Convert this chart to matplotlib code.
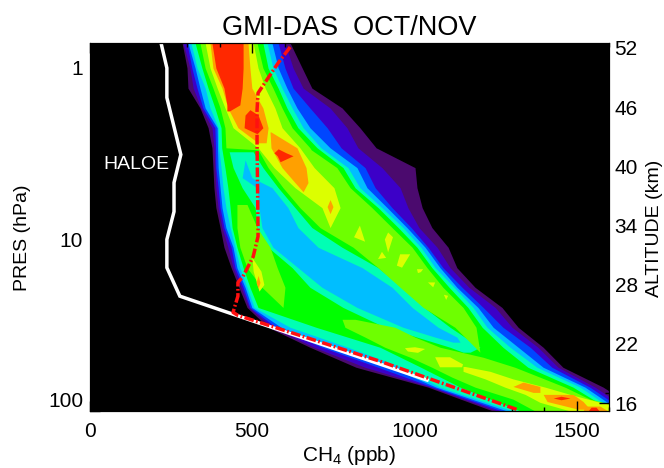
import matplotlib
matplotlib.use('Agg')
import matplotlib.pyplot as plt
from matplotlib.ticker import FixedLocator, MultipleLocator, NullFormatter

plt.rcParams['font.family'] = ['Liberation Sans', 'DejaVu Sans']
plt.rcParams['mathtext.default'] = 'regular'

# pressure levels (hPa) the contour edges were read at
pres = [0.715, 1, 1.31, 1.71, 2.23, 2.92, 3.81, 4.99, 6.52, 8.52, 11.1, 14.6, 19.0, 24.9, 32.5, 42.5, 55.6, 72.6, 100]

# outer contour bands, left and right edge in ppb
purple_l = [284, 299, 302, 339, 364, 376, 379, 382, 388, 401, 413, 435, 459, 484, 549, 678, 820, 1042, 1242]
purple_r = [617, 654, 684, 777, 832, 882, 1002, 1008, 1024, 1054, 1104, 1131, 1187, 1270, 1320, 1397, 1458, 1582, 1696]
indigo_l = [287, 308, 318, 342, 376, 382, 385, 388, 395, 407, 425, 441, 466, 490, 561, 691, 848, 1051, 1255]
indigo_r = [601, 626, 657, 740, 792, 826, 900, 956, 980, 1014, 1070, 1110, 1168, 1249, 1301, 1381, 1443, 1557, 1665]
blue_l = [299, 314, 330, 348, 385, 387, 388, 395, 401, 413, 435, 447, 472, 493, 573, 715, 888, 1057, 1270]
blue_r = [580, 601, 626, 678, 731, 774, 848, 879, 931, 990, 1042, 1088, 1147, 1212, 1273, 1357, 1424, 1541, 1649]
azure_l = [302, 324, 339, 355, 392, 393, 395, 401, 407, 419, 441, 453, 478, 499, 589, 734, 925, 1067, 1286]
azure_r = [561, 580, 607, 638, 678, 740, 823, 854, 916, 977, 1033, 1079, 1131, 1196, 1243, 1320, 1397, 1526, 1634]
teal_l = [311, 330, 355, 370, 395, 397, 404, 410, 419, 432, 447, 462, 484, 506, 617, 795, 962, 1079, 1304]
teal_r = [546, 564, 592, 623, 657, 712, 795, 832, 900, 965, 1020, 1064, 1122, 1181, 1224, 1295, 1378, 1511, 1619]
green_l = [324, 345, 364, 385, 404, 406, 416, 425, 432, 438, 453, 472, 493, 518, 697, 894, 1020, 1141, 1326]
green_r = [533, 549, 580, 607, 641, 700, 780, 817, 888, 950, 1008, 1054, 1107, 1165, 1209, 1273, 1350, 1489, 1609]

# low-value core inside the distribution
core_teal_p = [3.08, 3.81, 4.99, 6.52, 8.52, 11.1, 14.6, 19.0, 24.9, 32.5, 42.5, 45.4]
core_teal_l = [429, 441, 469, 509, 515, 549, 623, 678, 780, 909, 1110, 1150]
core_teal_r = [503, 533, 580, 632, 684, 777, 888, 962, 1030, 1110, 1202, 1172]
core_azure_p = [3.43, 4.36, 4.99, 6.52, 8.52, 11.1, 14.6, 19.0, 24.9, 32.5, 37.1, 39.7]
core_azure_l = [478, 469, 515, 521, 530, 564, 641, 715, 823, 965, 1064, 1119]
core_azure_r = [478, 499, 561, 610, 641, 703, 839, 931, 993, 1073, 1131, 1141]

lime_p = [0.715, 1, 1.31, 1.71, 2.23, 2.92, 3.0, 3.81, 4.99, 6.52, 8.52, 11.1, 14.6, 19.0, 24.9, 32.5, 45.4]
lime_l = [339, 355, 379, 401, 416, 419, 518, 549, 595, 647, 709, 811, 888, 956, 1027, 1125, 1202]
lime_r = [515, 533, 564, 592, 623, 678, 682, 761, 802, 869, 931, 993, 1039, 1088, 1150, 1190, 1202]
lime2_p = [6.25, 8.52, 11.1, 14.6, 19.0, 24.9]
lime2_l = [453, 453, 462, 484, 530, 595]
lime2_r = [484, 515, 555, 577, 601, 595]
lime3_p = [29.2, 32.5, 37.1, 42.5, 48.6, 55.6, 63.5, 72.6, 85.3, 100]
lime3_l = [777, 786, 848, 909, 987, 1054, 1116, 1187, 1304, 1372]
lime3_r = [817, 940, 1002, 1079, 1212, 1310, 1387, 1464, 1541, 1696]

yellow_p = [0.715, 1, 1.31, 1.71, 2.23, 2.92, 3.81, 4.99, 6.52, 8.52]
yellow_l = [355, 370, 392, 416, 441, 518, 567, 632, 715, 740]
yellow_r = [503, 518, 540, 570, 592, 647, 691, 752, 771, 740]
yellow2_p = [12.7, 15.3, 18.3, 20.0]
yellow2_l = [499, 503, 515, 521]
yellow2_r = [499, 527, 536, 521]
yellow3_p = [55, 58.7, 65, 72.6, 80, 89, 100]
yellow3_l = [1150, 1150, 1218, 1279, 1341, 1387, 1480]
yellow3_r = [1156, 1233, 1304, 1403, 1480, 1572, 1696]

orange_p = [0.715, 1, 1.31, 1.71, 2.23, 2.73]
orange_l = [370, 379, 407, 425, 456, 518]
orange_r = [487, 493, 499, 533, 549, 543]
orange2_p = [2.36, 2.92, 3.81, 4.66, 5.27]
orange2_l = [555, 558, 592, 632, 657]
orange2_r = [558, 638, 666, 672, 657]
orange3_p = [5.85, 6.43, 7.07]
orange3_l = [740, 731, 740]
orange3_r = [740, 749, 740]
orange4_p = [16.2, 17.8, 19.2]
orange4_l = [518, 512, 518]
orange4_r = [518, 524, 518]
orange5_p = [67.8, 71.9, 77.9]
orange5_l = [1335, 1304, 1366]
orange5_r = [1335, 1387, 1387]
orange6_p = [80, 88, 97.6]
orange6_l = [1397, 1409, 1505]
orange6_r = [1489, 1520, 1541]
orange7_p = [93.6, 100]
orange7_l = [1526, 1520]
orange7_r = [1572, 1597]

red_p = [0.715, 1, 1.31, 1.64, 1.78]
red_l = [376, 388, 413, 422, 422]
red_r = [472, 472, 469, 462, 430]
red2_p = [1.75, 1.88, 2.23, 2.42]
red2_l = [493, 478, 475, 515]
red2_r = [493, 518, 533, 515]
red3_p = [2.96, 3.12, 3.25, 3.52]
red3_l = [580, 567, 577, 586]
red3_r = [580, 604, 626, 586]
red4_p = [82, 84, 86]
red4_l = [1452, 1428, 1452]
red4_r = [1452, 1480, 1452]
red5_p = [95, 100]
red5_l = [1545, 1535]
red5_r = [1560, 1570]

# small yellow islands (ppb, hPa)
isl_x = [[832, 814, 848], [919, 909, 919, 934], [900, 888, 913], [956, 987, 962, 946],
         [1008, 1027, 1020, 1011], [1042, 1064, 1058], [1091, 1104, 1098],
         [971, 1002, 1033, 1011, 980], [1064, 1110, 1150, 1147, 1079]]
isl_p = [[8.3, 9.7, 10.3], [9.1, 10.0, 11.9, 9.7], [11.8, 13, 12.8], [12.2, 12.2, 14.6, 14.2],
         [14.9, 14.9, 15.5, 15.7], [17.8, 17.8, 19.0], [21, 21.3, 22.5],
         [43, 42.5, 43.5, 45.8, 45], [48.6, 48.6, 53.5, 55.6, 55.6]]

# profiles
haloe_ch4 = [219, 237, 237, 280, 259, 259, 237, 237, 277, 1039]
haloe_p = [0.715, 1, 1.49, 3.2, 4.66, 6.88, 10, 14.6, 21.4, 66]
das_ch4 = [617, 580, 518, 515, 515, 518, 518, 503, 472, 456, 456, 441, 456, 780, 894, 1316]
das_p = [0.755, 0.935, 1.40, 1.75, 2.73, 8.74, 9.6, 12.6, 16.4, 17.8, 21.4, 26.6, 27.7, 43.7, 51.3, 98]

pres_ticks = [1, 10, 100]
pres_labels = ['1', '10', '100']
ch4_ticks = [0, 500, 1000, 1500]
alt_ticks = [16, 22, 28, 34, 40, 46, 52]

c_purple = '#4b0a6e'
c_indigo = '#3c00c8'
c_blue = '#0046ff'
c_azure = '#00beff'
c_teal = '#00ffb4'
c_green = '#00ff00'
c_lime = '#6eff00'
c_yellow = '#dcff00'
c_orange = '#ffa000'
c_red = '#ff2800'

fig = plt.figure(figsize=(6.64, 4.68), dpi=100)
ax = fig.add_axes([90 / 664, 1 - 411 / 468, 519 / 664, 368 / 468])
ax.set_facecolor('black')


def band(p, left, right, color):
    ax.fill_betweenx(p, left, right, color=color, linewidth=0)


band(pres, purple_l, purple_r, c_purple)
band(pres, indigo_l, indigo_r, c_indigo)
band(pres, blue_l, blue_r, c_blue)
band(pres, azure_l, azure_r, c_azure)
band(pres, teal_l, teal_r, c_teal)
band(pres, green_l, green_r, c_green)
band(core_teal_p, core_teal_l, core_teal_r, c_teal)
band(core_azure_p, core_azure_l, core_azure_r, c_azure)
band(lime_p, lime_l, lime_r, c_lime)
band(lime2_p, lime2_l, lime2_r, c_lime)
band(lime3_p, lime3_l, lime3_r, c_lime)
band(yellow_p, yellow_l, yellow_r, c_yellow)
band(yellow2_p, yellow2_l, yellow2_r, c_yellow)
band(yellow3_p, yellow3_l, yellow3_r, c_yellow)
for x, p in zip(isl_x, isl_p):
    ax.fill(x, p, color=c_yellow, linewidth=0)
band(orange_p, orange_l, orange_r, c_orange)
band(orange2_p, orange2_l, orange2_r, c_orange)
band(orange3_p, orange3_l, orange3_r, c_orange)
band(orange4_p, orange4_l, orange4_r, c_orange)
band(orange5_p, orange5_l, orange5_r, c_orange)
band(orange6_p, orange6_l, orange6_r, c_orange)
band(orange7_p, orange7_l, orange7_r, c_orange)
band(red_p, red_l, red_r, c_red)
band(red2_p, red2_l, red2_r, c_red)
band(red3_p, red3_l, red3_r, c_red)
band(red4_p, red4_l, red4_r, c_red)
band(red5_p, red5_l, red5_r, c_red)

ax.plot(haloe_ch4, haloe_p, color='white', linewidth=2.5, solid_joinstyle='miter')
ax.plot(das_ch4, das_p, color='#ff1010', linewidth=2.5, linestyle=(0, (2.8, 0.7, 0.5, 0.7)))
ax.text(41, 3.67, 'HALOE', color='white', fontsize=14, va='center')

ax.set_yscale('log')
ax.set_xlim(0, 1600)
ax.set_ylim(100, 0.715)
ax.xaxis.set_major_locator(FixedLocator(ch4_ticks))
ax.xaxis.set_minor_locator(MultipleLocator(100))
ax.yaxis.set_major_locator(FixedLocator(pres_ticks))
ax.yaxis.set_major_formatter(plt.FixedFormatter(pres_labels))
ax.yaxis.set_minor_formatter(NullFormatter())
ax.tick_params(axis='x', which='major', direction='in', length=7, width=1, top=True, labelsize=15, pad=8)
ax.tick_params(axis='x', which='minor', direction='in', length=3, width=1, top=True)
ax.tick_params(axis='y', which='major', direction='in', length=7, width=1, labelsize=15, pad=5)
ax.tick_params(axis='y', which='minor', direction='in', length=3, width=1)
ax.get_yticklabels()[2].set_va('bottom')

ax2 = ax.twinx()
ax2.set_ylim(15.19, 52.5)
ax2.yaxis.set_major_locator(FixedLocator(alt_ticks))
ax2.yaxis.set_minor_locator(MultipleLocator(1))
ax2.tick_params(axis='y', which='major', direction='in', length=7, width=1, labelsize=15, pad=4)
ax2.tick_params(axis='y', which='minor', direction='in', length=3, width=1)

ax.set_xlabel('CH$_4$ (ppb)', fontsize=15)
ax.xaxis.set_label_coords(0.5, -0.09)
ax.set_ylabel('PRES (hPa)', fontsize=14)
ax.yaxis.set_label_coords(-0.114, 0.47)
ax2.set_ylabel('ALTITUDE (km)', fontsize=14)
ax2.yaxis.set_label_coords(1.072, 0.497)
ax.set_title('GMI-DAS  OCT/NOV', fontsize=19.5, pad=6)

plt.savefig('out.png', dpi=100)
plt.close()
